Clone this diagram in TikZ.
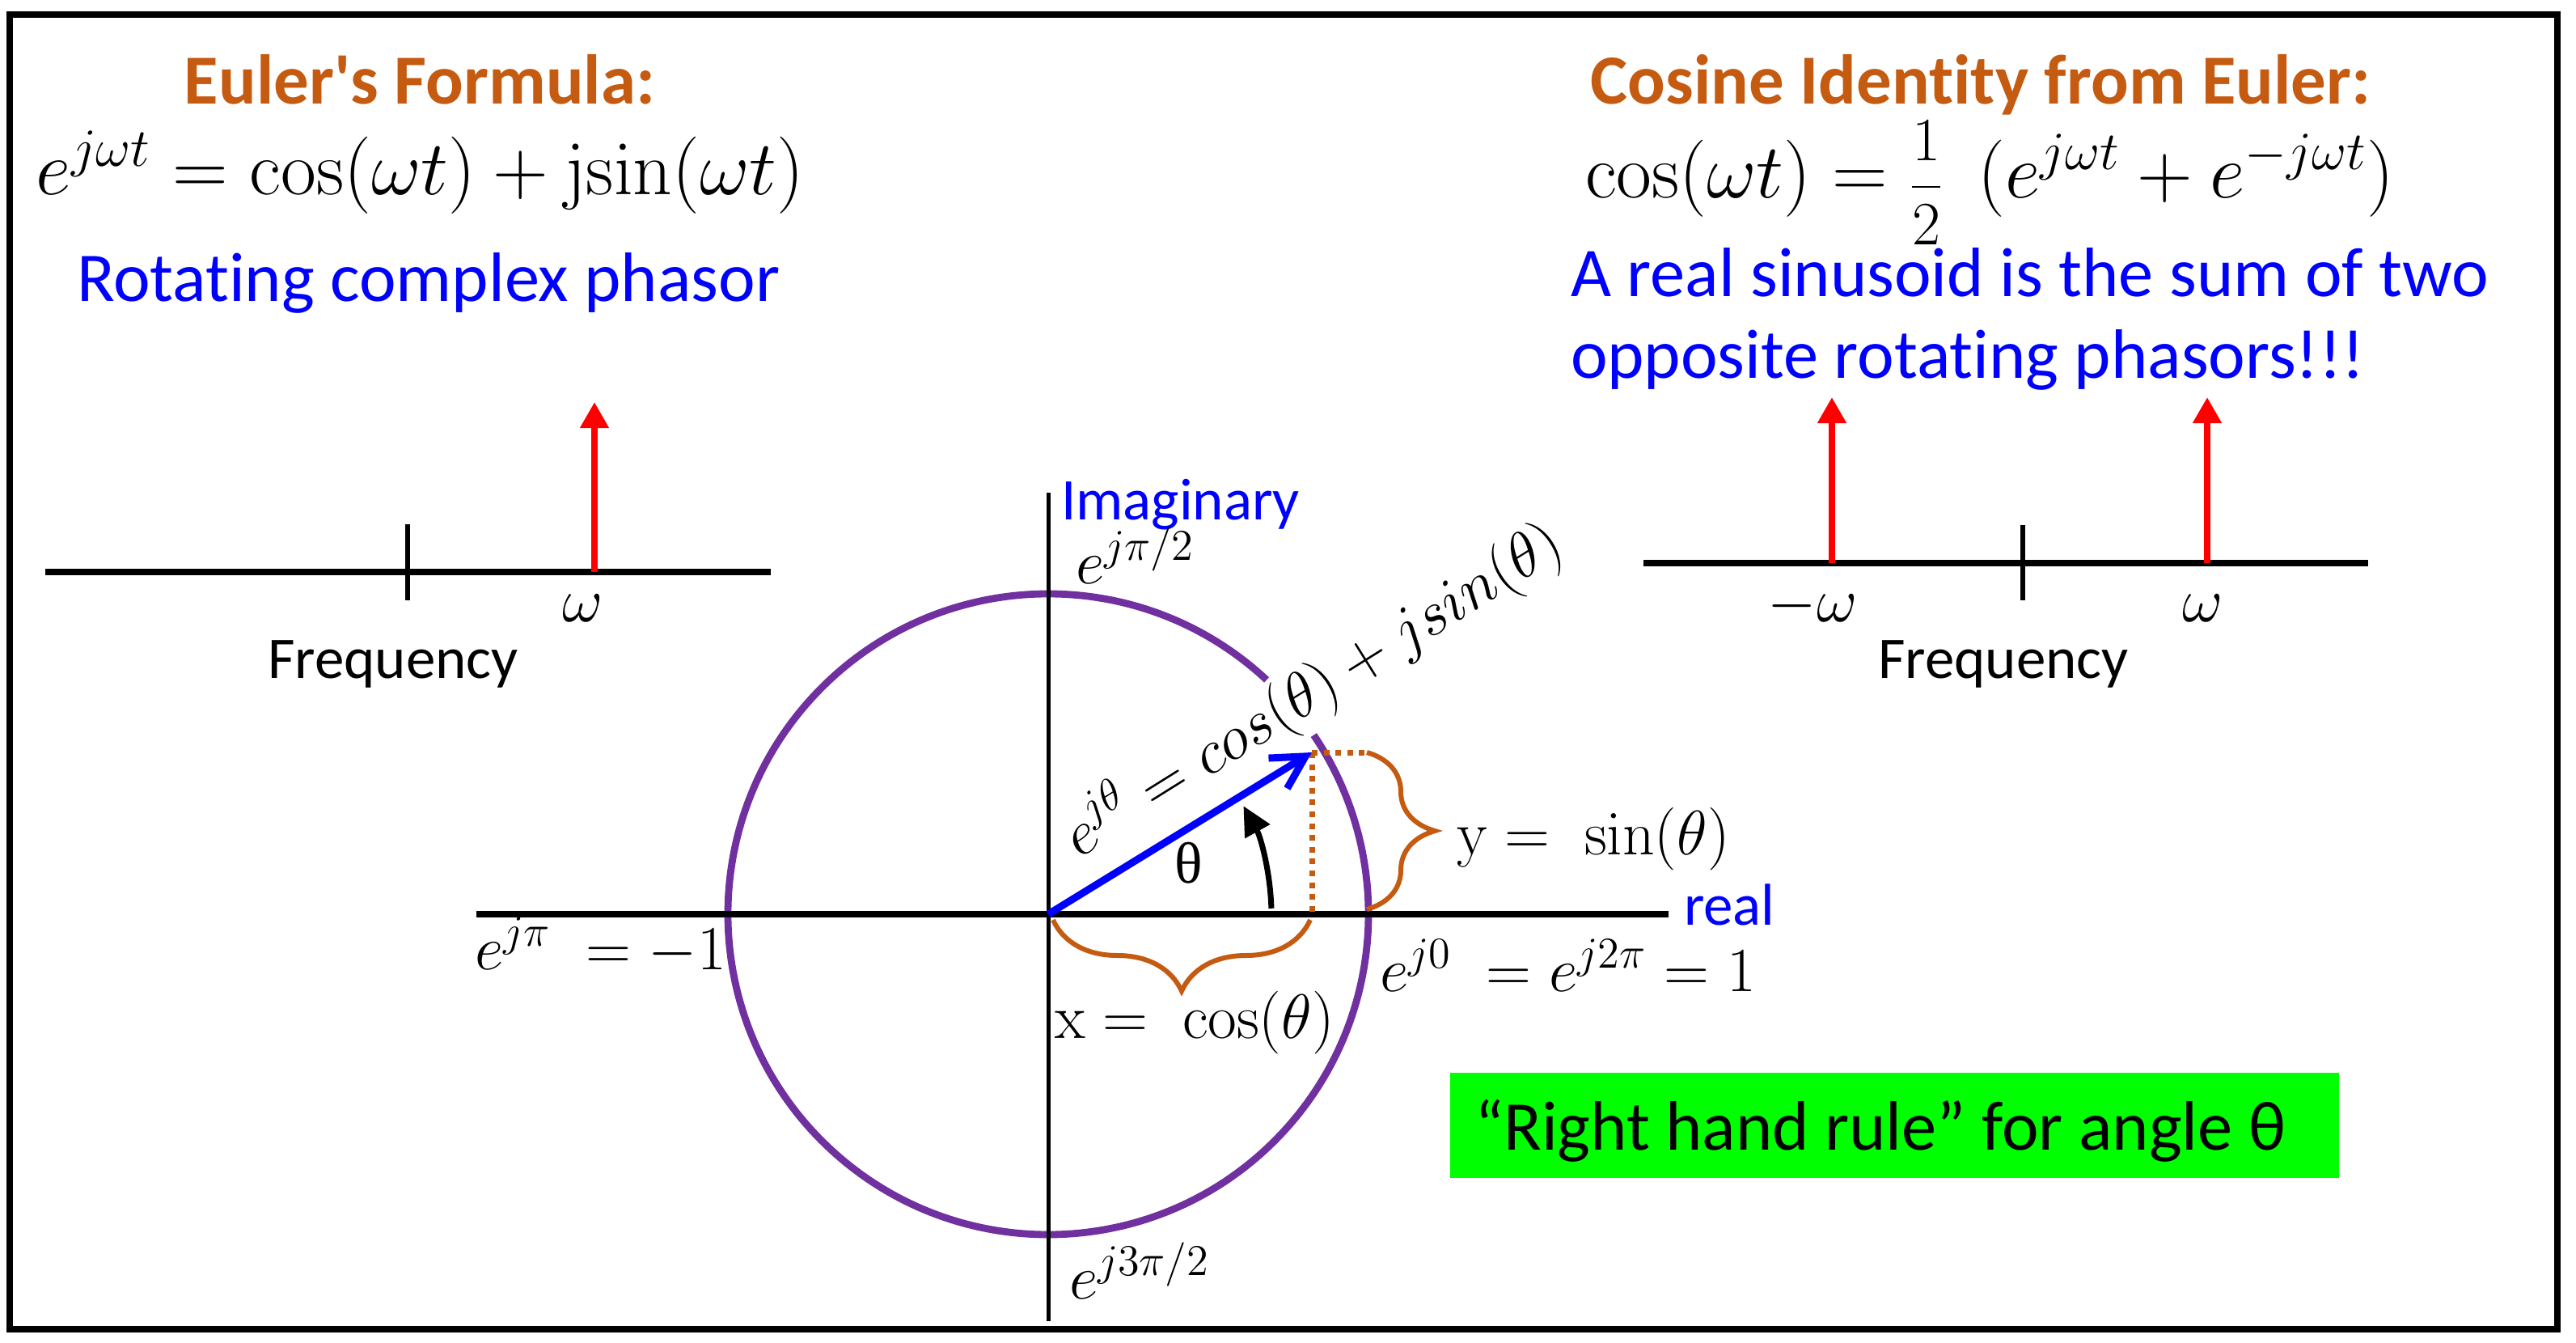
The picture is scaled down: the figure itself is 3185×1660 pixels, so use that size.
\RequirePackage{fix-cm}
\documentclass[tikz,border=0pt]{standalone}
\usepackage[no-math]{fontspec}
\usepackage{graphicx}
\setmainfont{Carlito}[Ligatures=NoCommon]
\newfontfamily\serifgr{Liberation Serif}
\usetikzlibrary{arrows.meta,decorations.pathreplacing,calc}
\definecolor{brn}{HTML}{C55A11}
\definecolor{ppl}{HTML}{7030A0}
\definecolor{blu}{HTML}{0000FF}
\definecolor{grn}{HTML}{00FF00}
\definecolor{rd}{HTML}{FF0000}
\newcommand\fsz[1]{\fontsize{#1}{#1}\selectfont}
\tikzset{
  every node/.style={inner sep=0pt, outer sep=0pt},
  ttl/.style={font=\fsz{21.75pt}\bfseries, text=brn},
  bigtxt/.style={font=\fsz{21.6pt}, text=blu},
  mtxt/.style={font=\fsz{23.8pt}},
  lbl/.style={font=\fsz{19.4pt}},
  smalltxt/.style={font=\fsz{18.25pt}},
  axisln/.style={line width=2pt},
  tickln/.style={line width=1.3pt},
  spike/.style={rd, line width=1.9pt, -{Triangle[length=8pt,width=8.5pt]}},
  bracebrn/.style={brn, line width=1.5pt, decorate},
  dotbrn/.style={brn, line width=1.75pt, dash pattern=on 1.75pt off 1.9pt},
}
\begin{document}
\begin{tikzpicture}[x=0.25pt,y=-0.25pt]
\useasboundingbox (0,0) rectangle (3185,1660);
\draw[line width=2pt] (12,18) rectangle (3162,1643);

% top left
\node[ttl, anchor=base] (t1) at (519,128) {Euler\textquotesingle s Formula:};
\node[mtxt, anchor=base west] (f1) at (45,240) {$e^{j\omega t} = \cos(\omega t) + \mathrm{jsin}(\omega t)$};
\node[bigtxt, anchor=base west] (rot) at (95,372) {Rotating complex phasor};

% top right
\node[ttl, anchor=base] (t2) at (2449,128) {Cosine Identity from Euler:};
\node[mtxt, anchor=base west] (f2) at (1960,244) {$\cos(\omega t) =\raisebox{-1.5pt}{\scalebox{0.8}{$\displaystyle\frac{1}{2}$}}\;\,(e^{j\omega t} + e^{-j\omega t})$};
\node[bigtxt, anchor=base west] (s1) at (1942,366) {A real sinusoid is the sum of two};
\node[bigtxt, anchor=base west] (s2) at (1942,467) {opposite rotating phasors!!!};

% left spectrum
\coordinate (la1) at (56,707); \coordinate (la2) at (953,707);
\coordinate (lt1) at (504,648); \coordinate (lt2) at (504,742);
\coordinate (lr0) at (735,707); \coordinate (lr1) at (735,497);
\draw[axisln] (la1) -- (la2);
\draw[tickln] (lt1) -- (lt2);
\draw[spike] (lr0) -- (lr1);
\node[lbl, anchor=base] (lw) at (721,768) {$\omega$};
\node[smalltxt, anchor=base] (lf) at (486,838) {Frequency};

% right spectrum
\coordinate (ra1) at (2032,696); \coordinate (ra2) at (2928,696);
\coordinate (rt1) at (2501,649); \coordinate (rt2) at (2501,742);
\coordinate (rn0) at (2265,696); \coordinate (rn1) at (2265,491);
\coordinate (rp0) at (2729,696); \coordinate (rp1) at (2729,491);
\draw[axisln] (ra1) -- (ra2);
\draw[tickln] (rt1) -- (rt2);
\draw[spike] (rn0) -- (rn1);
\draw[spike] (rp0) -- (rp1);
\node[lbl, anchor=base] (rwn) at (2241,768) {$-\omega$};
\node[lbl, anchor=base] (rwp) at (2724,768) {$\omega$};
\node[smalltxt, anchor=base] (rf) at (2477,838) {Frequency};

% complex plane
\coordinate (O) at (1296,1130);
\coordinate (P) at (1622,930);
\coordinate (Px) at (1622,1130);
\coordinate (Py) at (1690,930);
\coordinate (hx1) at (589,1130); \coordinate (hx2) at (2063,1130);
\coordinate (vy1) at (1296,609); \coordinate (vy2) at (1296,1633);
\draw[ppl, line width=2.2pt] (O) ++(-47:396) arc[start angle=-47, end angle=-394, radius=396];
\draw[axisln] (hx1) -- (hx2);
\draw[line width=1.25pt] (vy1) -- (vy2);
\draw[dotbrn] (P) -- (Px);
\draw[dotbrn] (P) -- (Py);
\draw[blu, line width=2.25pt, -{Straight Barb[length=10pt,width=11pt]}] (O) -- (P);
\draw[line width=1.75pt, -{Triangle[length=9pt,width=8.5pt]}] (O) ++(-1.5:276) arc[start angle=-1.5, end angle=-29, radius=276];
\coordinate (by1) at (1690,930); \coordinate (by2) at (1690,1124);
\draw[bracebrn, decoration={brace, amplitude=21pt}] (by1) -- (by2);
\coordinate (bx1) at (1620,1137); \coordinate (bx2) at (1302,1137);
\draw[bracebrn, decoration={brace, amplitude=22pt}] (bx1) -- (bx2);

\node[font=\serifgr\fsz{18pt}] (th) at (1470,1067) {θ};
\node[smalltxt, text=blu, anchor=base west] (im) at (1312,642) {Imaginary};
\node[smalltxt, text=blu, anchor=base west] (re) at (2082,1143) {real};
\node[lbl, anchor=base west] (epi2) at (1330,721) {$e^{j\pi/2}$};
\node[lbl, anchor=base west] (epi) at (587,1198) {$e^{j\pi}\; = -1$};
\node[lbl, anchor=base west] (e0) at (1706,1225) {$e^{j0}\; = e^{j2\pi} = 1$};
\node[lbl, anchor=base west] (e3pi2) at (1322,1605) {$e^{j3\pi/2}$};
\node[lbl, anchor=base west] (xc) at (1304,1283) {$\mathrm{x} = \;\cos(\theta)$};
\node[lbl, anchor=base west] (ys) at (1801,1056) {$\mathrm{y} = \;\sin(\theta)$};
\node[lbl, anchor=base west, rotate=32] (ej) at (1334,1061) {$e^{j\theta} = cos(\theta) + jsin(\theta)$};

% green box
\node[fill=grn, minimum width=274.75pt, minimum height=32.5pt, anchor=north west] (gb) at (1793,1326) {};
\node[bigtxt, text=black, anchor=base west] (gt) at (1823,1421) {“Right hand rule” for angle θ};
\end{tikzpicture}
\end{document}
